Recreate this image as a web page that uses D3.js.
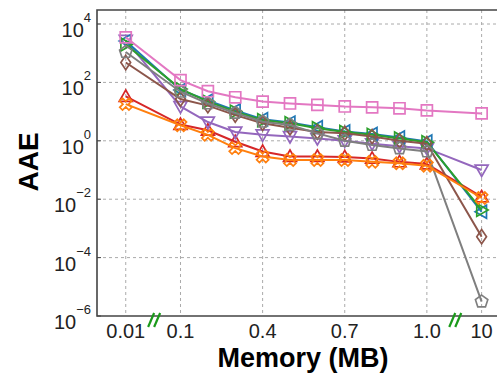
<!DOCTYPE html>
<html>
<head>
<meta charset="utf-8">
<script src="https://cdn.jsdelivr.net/npm/d3@7"></script>
<style>
  body { margin: 0; background: #fff; }
  svg { display: block; font-family: "Liberation Sans", Arial, sans-serif; }
  .grid line { stroke: #aaa; stroke-width: 1; stroke-dasharray: 3,3; }
  .spine { stroke: #444; stroke-width: 1.6; fill: none; }
  .ticklabel { fill: #222; }
</style>
</head>
<body>
<script>
//// DATA
// Memory sizes (MB) along the x axis, with breaks after 0.01 and before 10
var memory = ["0.01", "0.1", "0.2", "0.3", "0.4", "0.5", "0.6", "0.7", "0.8", "0.9", "1.0", "10"];
var xTickLabels = ["0.01", "0.1", "0.4", "0.7", "1.0", "10"];
var yTickExponents = [-6, -4, -2, 0, 2, 4];

// AAE per method
var red    = [33, 3.6, 2.3, 0.93, 0.43, 0.29, 0.29, 0.28, 0.25, 0.19, 0.16, 0.012];
var purple = [2800, 15, 4.4, 2.0, 1.6, 1.4, 1.2, 1.0, 0.8, 0.65, 0.55, 0.1];
var blue   = [2600, 55, 24, 11, 5.5, 4.2, 2.9, 2.1, 1.7, 1.3, 0.95, 0.0037];
var green  = [2000, 60, 22, 10, 5.1, 4.0, 2.7, 2.0, 1.6, 1.2, 0.9, 0.0043];
var brown  = [480, 27, 16, 7.6, 4.0, 2.8, 2.0, 1.8, 1.4, 1.0, 0.8, 0.00052];
var grey   = [1100, 48, 19, 9, 4.5, 3.5, 1.8, 1.0, 0.72, 0.55, 0.43, 3.1e-6];
var orange = [18, 3.4, 1.6, 0.56, 0.29, 0.22, 0.22, 0.22, 0.19, 0.17, 0.14, 0.011];
var pink   = [3500, 120, 50, 31, 22, 19, 17, 15, 14, 13, 11, 8.7];

var series = [
  {values: red,    color: "#d62728", marker: "up"},
  {values: purple, color: "#9467bd", marker: "down"},
  {values: blue,   color: "#1f77b4", marker: "left"},
  {values: green,  color: "#2ca02c", marker: "right"},
  {values: brown,  color: "#8c564b", marker: "diamond"},
  {values: grey,   color: "#7f7f7f", marker: "pentagon"},
  {values: orange, color: "#ff7f0e", marker: "x"},
  {values: pink,   color: "#e377c2", marker: "square"}
];

//// LAYOUT
var W = 497, H = 373;
var plot = {left: 97, top: 10, right: 509, bottom: 316};

// slot index of each category: one empty slot at each axis break
function slot(i) {
  return i + (i > 0 ? 1 : 0) + (i === memory.length - 1 ? 1 : 0);
}
var xScale = d3.scaleLinear().domain([-1.05, 14]).range([plot.left, plot.right]);
var yScale = d3.scaleLog().domain([1e-6, Math.pow(10, 4.48)]).range([plot.bottom, plot.top]);
var xPos = function(label) { return xScale(slot(memory.indexOf(label))); };

var svg = d3.select("body").append("svg")
    .attr("width", W)
    .attr("height", H);

// Grid
var grid = svg.append("g").attr("class", "grid");
grid.selectAll(".gx")
    .data(xTickLabels)
  .enter().append("line")
    .attr("x1", xPos).attr("x2", xPos)
    .attr("y1", plot.top).attr("y2", plot.bottom);
grid.selectAll(".gy")
    .data(yTickExponents.filter(function(e) { return e > -6; }))
  .enter().append("line")
    .attr("x1", plot.left).attr("x2", plot.right)
    .attr("y1", function(e) { return yScale(Math.pow(10, e)); })
    .attr("y2", function(e) { return yScale(Math.pow(10, e)); });

// Markers
function markerPath(type) {
  var r = 6.5;
  switch (type) {
    case "up": return "M0," + (-r) + "L" + r + "," + (r * 0.75) + "L" + (-r) + "," + (r * 0.75) + "Z";
    case "down": return "M0," + r + "L" + r + "," + (-r * 0.75) + "L" + (-r) + "," + (-r * 0.75) + "Z";
    case "left": return "M" + (-r) + ",0L" + (r * 0.75) + "," + (-r) + "L" + (r * 0.75) + "," + r + "Z";
    case "right": return "M" + r + ",0L" + (-r * 0.75) + "," + (-r) + "L" + (-r * 0.75) + "," + r + "Z";
    case "diamond": return "M0," + (-r * 1.1) + "L" + (r * 0.75) + ",0L0," + (r * 1.1) + "L" + (-r * 0.75) + ",0Z";
    case "square": return "M" + (-r * 0.85) + "," + (-r * 0.85) + "h" + (r * 1.7) + "v" + (r * 1.7) + "h" + (-r * 1.7) + "Z";
    case "pentagon": return pentagon(r);
    case "x": return "M-6,-3.2L-3.2,-6L0,-2.8L3.2,-6L6,-3.2L2.8,0L6,3.2L3.2,6L0,2.8L-3.2,6L-6,3.2L-2.8,0Z";
  }
}

function pentagon(r) {
  var pts = d3.range(5).map(function(k) {
    var a = -Math.PI / 2 + k * 2 * Math.PI / 5;
    return [r * Math.cos(a), r * Math.sin(a)];
  });
  return "M" + pts.join("L") + "Z";
}

var line = d3.line()
    .x(function(d, i) { return xScale(slot(i)); })
    .y(function(d) { return yScale(d); });

var marks = svg.append("g");
series.forEach(function(s) {
  var g = marks.append("g");
  g.append("path")
    .attr("d", line(s.values))
    .attr("fill", "none")
    .attr("stroke", s.color)
    .attr("stroke-width", 2);
  g.selectAll(".pt")
      .data(s.values)
    .enter().append("path")
      .attr("transform", function(d, i) {
        return "translate(" + xScale(slot(i)) + "," + yScale(d) + ")";
      })
      .attr("d", markerPath(s.marker))
      .attr("fill", "none")
      .attr("stroke", s.color)
      .attr("stroke-width", 1.7);
});

// Spines
svg.append("path")
    .attr("class", "spine")
    .attr("d", "M" + W + "," + plot.top + "H" + plot.left + "V" + plot.bottom + "H" + W);

// Y ticks
var yt = svg.append("g");
yTickExponents.forEach(function(e) {
  var y = yScale(Math.pow(10, e));
  yt.append("line")
    .attr("x1", plot.left).attr("x2", plot.left + 4)
    .attr("y1", y).attr("y2", y)
    .attr("stroke", "#444").attr("stroke-width", 1);
  var t = yt.append("text")
    .attr("class", "ticklabel")
    .attr("x", 91)
    .attr("y", y + 13)
    .attr("text-anchor", "end")
    .style("font-size", "20px");
  t.append("tspan").text("10");
  t.append("tspan")
    .attr("dy", -15)
    .style("font-size", "13px")
    .text(e < 0 ? "\u2212" + (-e) : String(e));
});

// X ticks
svg.selectAll(".xtl")
    .data(xTickLabels)
  .enter().append("text")
    .attr("class", "ticklabel")
    .attr("x", xPos)
    .attr("y", 338)
    .attr("text-anchor", "middle")
    .style("font-size", "20px")
    .text(function(d) { return d; });

// Axis break marks (two slanted strokes in the empty slots)
[1, 12].forEach(function(k) {
  var cx = xScale(k) + 1, cy = 320;
  [-3, 3].forEach(function(dx) {
    svg.append("line")
      .attr("x1", cx + dx - 3).attr("y1", cy + 7)
      .attr("x2", cx + dx + 3).attr("y2", cy - 7)
      .attr("stroke", "#1a9a1a")
      .attr("stroke-width", 2.2);
  });
});

// Axis titles
svg.append("text")
    .attr("x", 303)
    .attr("y", 367)
    .attr("text-anchor", "middle")
    .style("font-size", "27px")
    .style("font-weight", "bold")
    .text("Memory (MB)");

svg.append("text")
    .attr("transform", "translate(38,162) rotate(-90)")
    .attr("text-anchor", "middle")
    .style("font-size", "28px")
    .style("font-weight", "bold")
    .text("AAE");
</script>
</body>
</html>
